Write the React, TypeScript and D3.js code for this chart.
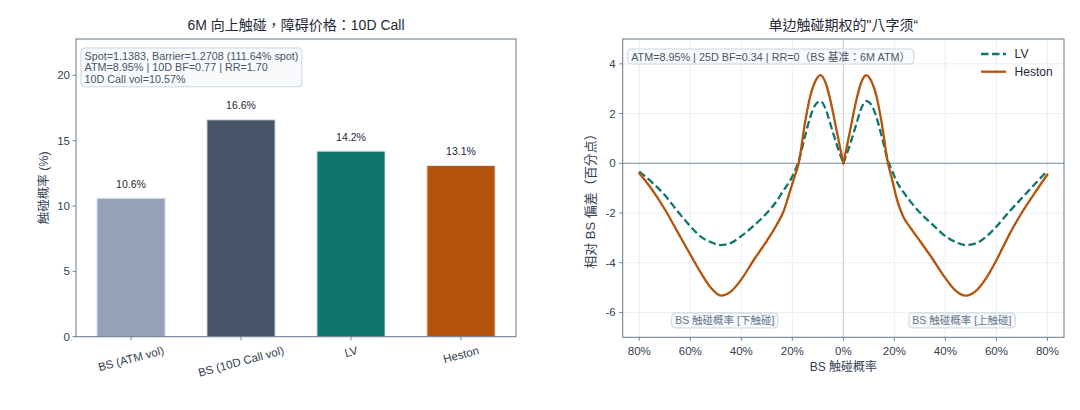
import { useEffect, useRef } from 'react'
import * as d3 from 'd3'

// left panel: one-touch probability by model
const barLabels = ['BS (ATM vol)', 'BS (10D Call vol)', 'LV', 'Heston']
const barValues = [10.6, 16.6, 14.2, 13.1]
const barColors = ['#94a3b8', '#475569', '#0f766e', '#b45309']
const barTicks = [0, 5, 10, 15, 20]
const barInfo = [
  'Spot=1.1383, Barrier=1.2708 (111.64% spot)',
  'ATM=8.95% | 10D BF=0.77 | RR=1.70',
  '10D Call vol=10.57%',
]

// right panel: deviation vs BS touch probability (down side drawn to the left)
const probs = [0, 2.5, 5, 7, 9, 11, 13, 15, 17.5, 19, 21, 23.5, 26, 30, 35, 40, 44, 48, 52, 56, 60, 65, 70, 75, 80]
const lvDown = [0, 0.72, 1.55, 2.2, 2.5, 2.35, 1.85, 1.1, 0.1, -0.3, -0.72, -1.1, -1.5, -2.0, -2.5, -2.93, -3.2, -3.29, -3.17, -2.94, -2.53, -1.93, -1.28, -0.77, -0.33]
const lvUp = [0, 0.72, 1.55, 2.2, 2.5, 2.35, 1.85, 1.1, 0.1, -0.27, -0.75, -1.15, -1.5, -1.98, -2.47, -2.93, -3.17, -3.29, -3.22, -2.95, -2.55, -1.95, -1.4, -0.84, -0.3]
const hestonDown = [0, 1.24, 2.5, 3.25, 3.55, 3.3, 2.7, 1.65, 0, -0.5, -1.15, -1.95, -2.45, -3.12, -3.87, -4.67, -5.15, -5.32, -5.0, -4.38, -3.67, -2.76, -1.85, -1.06, -0.4]
const hestonUp = [0, 1.24, 2.5, 3.25, 3.55, 3.3, 2.7, 1.65, 0, -0.6, -1.45, -2.15, -2.55, -3.12, -3.85, -4.62, -5.12, -5.32, -5.13, -4.62, -3.9, -2.88, -1.98, -1.2, -0.45]
const diffTicks = [-6, -4, -2, 0, 2, 4]
const probTicks = [-80, -60, -40, -20, 0, 20, 40, 60, 80]
const smileInfo = 'ATM=8.95% | 25D BF=0.34 | RR=0（BS 基准：6M ATM）'

const FONT = "'Liberation Sans', Arial, 'Noto Sans CJK TC', sans-serif"
const INK = '#334155'
const SPINE = '#64748b'
const LV_COLOR = '#0f766e'
const HESTON_COLOR = '#b45309'

type G = d3.Selection<SVGGElement, unknown, null, undefined>

function boxedText(g: G, x: number, y: number, lines: string[], anchor: string, color: string, size = 10.8) {
  const t = g.append('text').attr('font-size', size).attr('fill', color).attr('text-anchor', anchor)
  lines.forEach((l, i) => t.append('tspan').attr('x', x).attr('y', y + i * 11.9).text(l))
  const bb = (t.node() as SVGTextElement).getBBox()
  g.insert('rect', () => t.node())
    .attr('x', bb.x - 3.5)
    .attr('y', bb.y - 1.5)
    .attr('width', bb.width + 7)
    .attr('height', bb.height + 3)
    .attr('rx', 3.5)
    .attr('fill', '#f8fafc')
    .attr('fill-opacity', 0.92)
    .attr('stroke', '#cbd5e1')
    .attr('stroke-width', 1)
}

function frame(g: G, l: number, r: number, t: number, b: number) {
  g.append('rect')
    .attr('x', l).attr('y', t).attr('width', r - l).attr('height', b - t)
    .attr('fill', 'none').attr('stroke', SPINE).attr('stroke-width', 1)
}

function drawBars(svg: G) {
  const m = { left: 76, right: 516, top: 39, bottom: 336.7 }
  const g = svg.append('g')
  const x = d3.scaleLinear().domain([-0.5, 3.5]).range([m.left, m.right])
  const y = d3.scaleLinear().domain([0, 22.78]).range([m.bottom, m.top])
  const bw = 0.62

  g.append('g')
    .selectAll('rect')
    .data(barValues)
    .join('rect')
    .attr('x', (_, i) => x(i - bw / 2))
    .attr('width', x(bw) - x(0))
    .attr('y', (d) => y(d))
    .attr('height', (d) => y(0) - y(d))
    .attr('fill', (_, i) => barColors[i])
    .attr('stroke', '#e2e8f0')
    .attr('stroke-width', 1)

  g.append('g')
    .selectAll('text')
    .data(barValues)
    .join('text')
    .attr('x', (_, i) => x(i))
    .attr('y', (d) => y(d) - 10.5)
    .attr('text-anchor', 'middle')
    .attr('font-size', 10.5)
    .attr('fill', '#1f2937')
    .text((d) => `${d.toFixed(1)}%`)

  frame(g, m.left, m.right, m.top, m.bottom)

  // y ticks
  barTicks.forEach((v) => {
    g.append('line').attr('x1', m.left - 3.5).attr('x2', m.left).attr('y1', y(v)).attr('y2', y(v))
      .attr('stroke', SPINE).attr('stroke-width', 0.9)
    g.append('text').attr('x', m.left - 6).attr('y', y(v)).attr('dy', '0.35em')
      .attr('text-anchor', 'end').attr('font-size', 11.5).attr('fill', INK).text(v)
  })

  // x ticks, labels rotated 15deg, bbox top under the tick
  barLabels.forEach((lab, i) => {
    g.append('line').attr('x1', x(i)).attr('x2', x(i)).attr('y1', m.bottom).attr('y2', m.bottom + 3.5)
      .attr('stroke', SPINE).attr('stroke-width', 0.9)
    const t = g.append('text').attr('font-size', 11.5).attr('fill', INK).attr('text-anchor', 'middle')
      .attr('dominant-baseline', 'central').text(lab)
    const w = (t.node() as SVGTextElement).getComputedTextLength()
    const a = (15 * Math.PI) / 180
    const h = w * Math.sin(a) + 13 * Math.cos(a)
    const cy = m.bottom + 7 + h / 2
    t.attr('transform', `translate(${x(i)},${cy}) rotate(-15)`)
  })

  g.append('text')
    .attr('transform', `translate(44,${(m.top + m.bottom) / 2}) rotate(-90)`)
    .attr('text-anchor', 'middle').attr('dy', '0.35em')
    .attr('font-size', 12.5).attr('fill', INK)
    .text('触碰概率 (%)')

  g.append('text').attr('x', (m.left + m.right) / 2).attr('y', 30)
    .attr('text-anchor', 'middle').attr('font-size', 14).attr('fill', '#1f2937')
    .text('6M 向上触碰，障碍价格：10D Call')

  boxedText(g, m.left + 8.5, 59.5, barInfo, 'start', '#475569')
}

function drawSmile(svg: G) {
  const m = { left: 622.7, right: 1064, top: 39, bottom: 337.3 }
  const g = svg.append('g')
  const x = d3.scaleLinear().domain([-86.5, 86.5]).range([m.left, m.right])
  const y = d3.scaleLinear().domain([-7, 5]).range([m.bottom, m.top])

  const grid = g.append('g').attr('stroke', '#e5e9f1').attr('stroke-width', 0.8)
  diffTicks.forEach((v) => grid.append('line').attr('x1', m.left).attr('x2', m.right).attr('y1', y(v)).attr('y2', y(v)))
  probTicks.forEach((v) => grid.append('line').attr('x1', x(v)).attr('x2', x(v)).attr('y1', m.top).attr('y2', m.bottom))

  g.append('line').attr('x1', x(0)).attr('x2', x(0)).attr('y1', m.top).attr('y2', m.bottom)
    .attr('stroke', '#cbd5e1').attr('stroke-width', 1.2)
  g.append('line').attr('x1', m.left).attr('x2', m.right).attr('y1', y(0)).attr('y2', y(0))
    .attr('stroke', '#94a3b8').attr('stroke-width', 1.2)

  const line = d3.line<[number, number]>()
    .x((d) => x(d[0]))
    .y((d) => y(d[1]))
    .curve(d3.curveMonotoneX)

  const series = [
    { down: lvDown, up: lvUp, color: LV_COLOR, dash: '7.5,3.5' },
    { down: hestonDown, up: hestonUp, color: HESTON_COLOR, dash: null },
  ]
  series.forEach((s) => {
    const down = probs.map((p, i) => [-p, s.down[i]] as [number, number]).reverse()
    const up = probs.map((p, i) => [p, s.up[i]] as [number, number])
    ;[down, up].forEach((pts) => {
      g.append('path')
        .attr('d', line(pts))
        .attr('fill', 'none')
        .attr('stroke', s.color)
        .attr('stroke-width', 2.3)
        .attr('stroke-dasharray', s.dash)
        .attr('stroke-linecap', s.dash ? 'butt' : 'round')
    })
  })

  frame(g, m.left, m.right, m.top, m.bottom)

  diffTicks.forEach((v) => {
    g.append('line').attr('x1', m.left - 3.5).attr('x2', m.left).attr('y1', y(v)).attr('y2', y(v))
      .attr('stroke', SPINE).attr('stroke-width', 0.9)
    g.append('text').attr('x', m.left - 7).attr('y', y(v)).attr('dy', '0.35em')
      .attr('text-anchor', 'end').attr('font-size', 11.5).attr('fill', INK).text(v)
  })
  probTicks.forEach((v) => {
    g.append('line').attr('x1', x(v)).attr('x2', x(v)).attr('y1', m.bottom).attr('y2', m.bottom + 3.5)
      .attr('stroke', SPINE).attr('stroke-width', 0.9)
    g.append('text').attr('x', x(v)).attr('y', m.bottom + 17.5)
      .attr('text-anchor', 'middle').attr('font-size', 11.5).attr('fill', INK).text(`${Math.abs(v)}%`)
  })

  g.append('text').attr('x', (m.left + m.right) / 2).attr('y', 371)
    .attr('text-anchor', 'middle').attr('font-size', 12).attr('fill', INK).text('BS 触碰概率')
  g.append('text')
    .attr('transform', `translate(590.5,${198}) rotate(-90)`)
    .attr('text-anchor', 'middle').attr('dy', '0.35em')
    .attr('font-size', 13).attr('fill', INK)
    .text('相对 BS 偏差（百分点）')

  g.append('text').attr('x', (m.left + m.right) / 2).attr('y', 30)
    .attr('text-anchor', 'middle').attr('font-size', 14).attr('fill', '#1f2937')
    .text('单边触碰期权的"八字须“')

  boxedText(g, m.left + 8.5, 60.5, [smileInfo], 'start', '#475569')
  boxedText(g, x(-46.5), y(-6.33) + 3.8, ['BS 触碰概率 [下触碰]'], 'middle', '#64748b', 10.5)
  boxedText(g, x(46.5), y(-6.33) + 3.8, ['BS 触碰概率 [上触碰]'], 'middle', '#64748b', 10.5)

  // legend
  const legend = [
    { name: 'LV', color: LV_COLOR, dash: '7.5,3.5' },
    { name: 'Heston', color: HESTON_COLOR, dash: null },
  ]
  legend.forEach((d, i) => {
    const ly = 54 + i * 17.7
    g.append('line').attr('x1', 981).attr('x2', 1006).attr('y1', ly).attr('y2', ly)
      .attr('stroke', d.color).attr('stroke-width', 2.3).attr('stroke-dasharray', d.dash)
    g.append('text').attr('x', 1014.6).attr('y', ly).attr('dy', '0.36em')
      .attr('font-size', 12).attr('fill', '#1f2937').text(d.name)
  })
}

export default function App() {
  const ref = useRef<SVGSVGElement | null>(null)

  useEffect(() => {
    if (!ref.current) {return}
    const svg = d3.select(ref.current)
    svg.selectAll('*').remove()
    const root = svg.append('g').attr('font-family', FONT)
    drawBars(root)
    drawSmile(root)
  }, [])

  return (
    <svg
      ref={ref}
      width={1080}
      height={410}
      style={{ position: 'absolute', left: 0, top: 0, background: '#ffffff' }}
    />
  )
}
